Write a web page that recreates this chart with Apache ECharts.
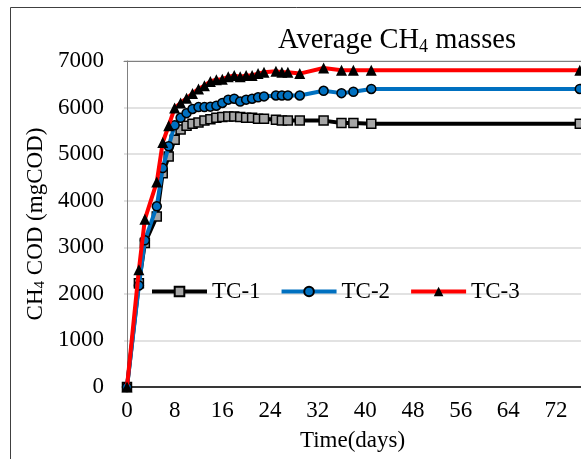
<!DOCTYPE html>
<html><head><meta charset="utf-8">
<script src="https://cdn.jsdelivr.net/npm/echarts@6/dist/echarts.min.js"></script>
<style>html,body{margin:0;padding:0;background:#fff;overflow:hidden}#c{width:581px;height:459px}</style>
</head><body><div id="c"></div>
<script>
const days = [0,2,3,5,6,7,8,9,10,11,12,13,14,15,16,17,18,19,20,21,22,23,25,26,27,29,33,36,38,41,76];
const tc1 = [0,2230,3090,3660,4590,4950,5310,5530,5610,5650,5680,5720,5750,5780,5800,5810,5810,5800,5780,5780,5760,5760,5740,5720,5720,5720,5720,5670,5670,5650,5650];
const tc2 = [0,2180,3150,3880,4700,5170,5620,5780,5880,5970,6010,6010,6020,6040,6100,6170,6190,6130,6170,6190,6220,6240,6260,6260,6260,6260,6360,6310,6340,6400,6400];
const tc3 = [0,2520,3600,4400,5250,5610,5990,6100,6200,6300,6400,6470,6560,6600,6610,6660,6690,6660,6690,6690,6730,6760,6780,6760,6760,6730,6850,6800,6800,6800,6800];
const seriesNames = ['TC-1','TC-2','TC-3'];
const xTicks = [0,8,16,24,32,40,48,56,64,72];
const FONT = '"Liberation Serif","Times New Roman",serif';
const chart = echarts.init(document.getElementById('c'), null, {renderer:'canvas'});
function pts(v){return days.map((d,i)=>[d,v[i]]);}
chart.setOption({
  animation:false,
  backgroundColor:'#fff',
  textStyle:{fontFamily:FONT},
  title:{
    text:'Average CH{sub|4} masses',
    left:278, top:26, padding:0,
    textStyle:{fontFamily:FONT,fontSize:28.5,fontWeight:'normal',color:'#000',
      rich:{sub:{fontFamily:FONT,fontSize:18,verticalAlign:'bottom',padding:[12,0,0,0],color:'#000'}}}
  },
  legend:{
    data:seriesNames,
    left:150, top:280, padding:0,
    itemWidth:55, itemHeight:12, itemGap:19,
    lineStyle:{width:4},
    textStyle:{fontFamily:FONT,fontSize:23,color:'#000'}
  },
  graphic:[{type:'rect',shape:{x:10.5,y:7.5,width:800,height:700},style:{fill:'none',stroke:'#404040',lineWidth:1},silent:true,z:-1}],
  grid:{left:124,top:61,right:0,bottom:72,show:false},
  xAxis:[{
    type:'value', min:-0.5, max:76.2,
    name:'Time(days)', nameLocation:'middle', nameGap:42,
    nameTextStyle:{fontFamily:FONT,fontSize:23,color:'#000'},
    axisLine:{show:true,onZero:false,lineStyle:{color:'#000',width:1.5}},
    axisTick:{show:false},
    splitLine:{show:false},
    axisLabel:{customValues:xTicks,fontFamily:FONT,fontSize:23,color:'#000',margin:12}
  },{
    type:'value', min:-0.5, max:76.2, position:'top',
    axisLine:{show:true,onZero:false,lineStyle:{color:'#808080',width:1}},
    axisTick:{show:false}, axisLabel:{show:false}, splitLine:{show:false}
  }],
  yAxis:{
    type:'value', min:0, max:7000, interval:1000,
    name:'CH{sub|4} COD (mgCOD)', nameLocation:'middle', nameGap:68,
    nameTextStyle:{fontFamily:FONT,fontSize:23,color:'#000',
      rich:{sub:{fontFamily:FONT,fontSize:15,verticalAlign:'bottom',padding:[8,0,0,0],color:'#000'}}},
    axisLine:{show:true,lineStyle:{color:'#808080',width:1}},
    axisTick:{show:false},
    splitLine:{show:true,lineStyle:{color:'#d9d9d9',width:1.5}},
    axisLabel:{fontFamily:FONT,fontSize:23,color:'#000',margin:20,formatter:v=>String(v)}
  },
  series:[
    {name:'TC-1',type:'line',data:pts(tc1),symbol:'rect',symbolSize:9,
      lineStyle:{color:'#000',width:4},itemStyle:{color:'#a6a6a6',borderColor:'#000',borderWidth:1.5},z:2},
    {name:'TC-2',type:'line',data:pts(tc2),symbol:'circle',symbolSize:9,
      lineStyle:{color:'#0070c0',width:4},itemStyle:{color:'#0070c0',borderColor:'#000',borderWidth:1.5},z:3},
    {name:'TC-3',type:'line',data:pts(tc3),symbol:'triangle',symbolSize:11,
      lineStyle:{color:'#ff0000',width:4},itemStyle:{color:'#000',borderColor:'#000',borderWidth:0},z:4}
  ]
});
</script></body></html>
